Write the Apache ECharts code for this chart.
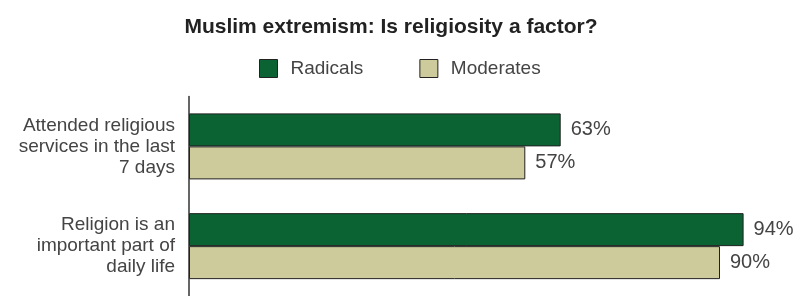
<!DOCTYPE html>
<html>
<head>
<meta charset="utf-8">
<script src="https://cdn.jsdelivr.net/npm/echarts@6/dist/echarts.min.js"></script>
<style>
html,body{margin:0;padding:0;background:#fff;}
#chart{width:809px;height:296px;}
</style>
</head>
<body>
<div id="chart"></div>
<script>
const titleText = "Muslim extremism: Is religiosity a factor?";
const categories = ["Attended religious\nservices in the last\n7 days", "Religion is an\nimportant part of\ndaily life"];
const seriesNames = ["Radicals", "Moderates"];
const radicals = [63, 94];
const moderates = [57, 90];
const seriesColors = ["#0b6334", "#cdcb9b"];

const chart = echarts.init(document.getElementById('chart'), null, {renderer: 'canvas'});
const font = "'Liberation Sans', Arial, sans-serif";
const valueLabel = {
  show: true, position: 'right', distance: 10,
  formatter: p => p.value + '%',
  color: '#444', fontFamily: font, fontSize: 20
};
chart.setOption({
  animation: false,
  backgroundColor: '#fff',
  title: {
    text: titleText, left: 386, top: 12, textAlign: 'center',
    textStyle: {fontFamily: font, fontSize: 21, fontWeight: 'bold', color: '#222'}
  },
  legend: {
    data: seriesNames, left: 259, top: 59, padding: 0, itemWidth: 18, itemHeight: 18, itemGap: 56,
    icon: 'rect',
    textStyle: {fontFamily: font, fontSize: 19, color: '#444', padding: [0, 0, 0, 8]},
    itemStyle: {borderColor: '#222', borderWidth: 1}
  },
  grid: {left: 189, width: 590, top: 96.5, height: 206, containLabel: false},
  xAxis: {
    type: 'value', min: 0, max: 100, show: false
  },
  yAxis: {
    type: 'category', data: categories, inverse: true,
    axisLine: {show: true, lineStyle: {color: '#333', width: 1.5}},
    axisTick: {show: false},
    axisLabel: {fontFamily: font, fontSize: 19, color: '#444', lineHeight: 21, margin: 14, align: 'right'}
  },
  series: [
    {name: seriesNames[0], type: 'bar', data: radicals, barWidth: 33, barGap: '0%',
     itemStyle: {color: seriesColors[0], borderColor: '#222', borderWidth: 1}, label: valueLabel},
    {name: seriesNames[1], type: 'bar', data: moderates, barWidth: 33, barGap: '0%',
     itemStyle: {color: seriesColors[1], borderColor: '#222', borderWidth: 1}, label: valueLabel}
  ]
});
</script>
</body>
</html>
